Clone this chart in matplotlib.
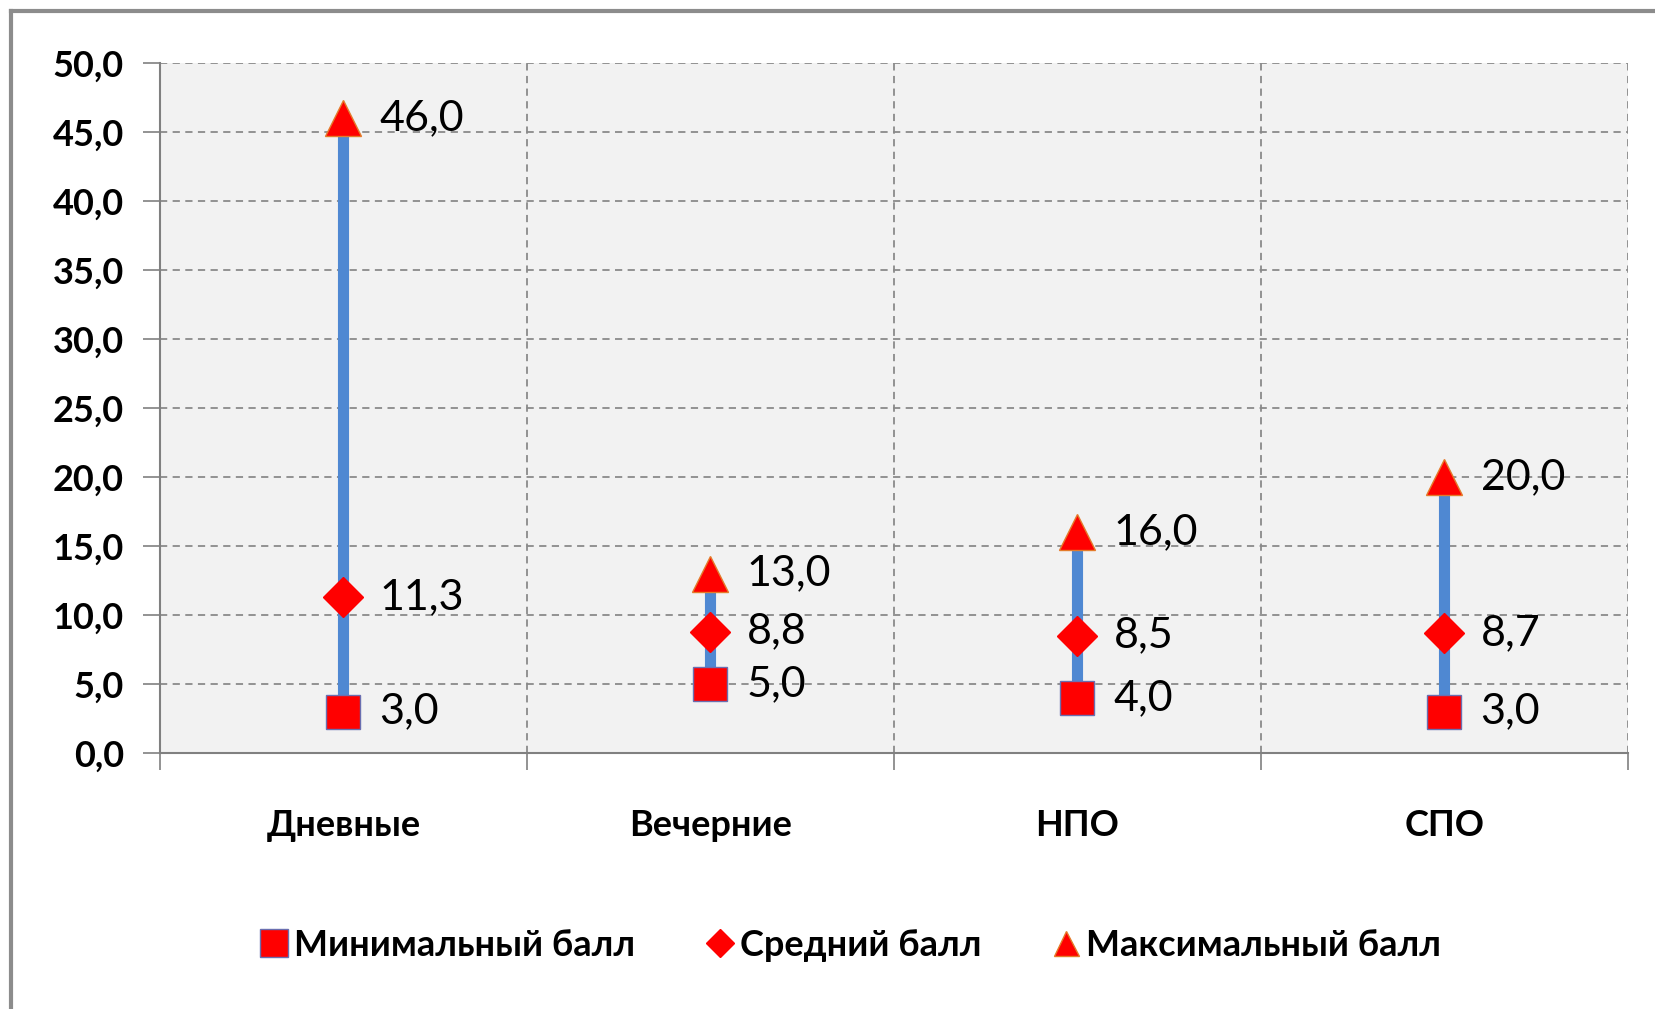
# Диаграмма: минимальный, средний и максимальный балл по типам учреждений

import matplotlib.pyplot as plt
from matplotlib.lines import Line2D

plt.rcParams['font.family'] = ['Lato', 'Roboto', 'DejaVu Sans']

categories = ['Дневные', 'Вечерние', 'НПО', 'СПО']
min_vals = [3.0, 5.0, 4.0, 3.0]
avg_vals = [11.3, 8.8, 8.5, 8.7]
max_vals = [46.0, 13.0, 16.0, 20.0]
yticks = [0, 5, 10, 15, 20, 25, 30, 35, 40, 45, 50]

fig = plt.figure(figsize=(16.56, 10.09), dpi=100)
ax = fig.add_axes([160 / 1656, 1 - 753 / 1009, (1628 - 160) / 1656, (753 - 63) / 1009])
ax.set_facecolor('#f2f2f2')

x = list(range(len(categories)))

# Линии от минимума до максимума
ax.vlines(x, min_vals, max_vals, color='#4f88d2', lw=8, zorder=2)

ax.plot(x, min_vals, 's', ms=24, mfc='#ff0000', mec='#6a6fb0', mew=1, ls='none', zorder=3)
ax.plot(x, avg_vals, 'D', ms=20, mfc='#ff0000', mec='#ff0000', mew=1, ls='none', zorder=3)
ax.plot(x, max_vals, '^', ms=26, mfc='#ff0000', mec='#e47b2a', mew=1, ls='none', zorder=3)

# Подписи значений
for vals in (min_vals, avg_vals, max_vals):
    for xi, v in zip(x, vals):
        ax.annotate(f'{v:.1f}'.replace('.', ','), (xi, v), xytext=(26, 0),
                    textcoords='offset points', ha='left', va='center',
                    fontsize=31, color='black', zorder=4)

ax.set_xlim(-0.5, len(categories) - 0.5)
ax.set_ylim(0, 50)
ax.set_yticks(yticks)
ax.set_yticklabels([f'{t:.1f}'.replace('.', ',') for t in yticks], fontsize=26, fontweight='bold')

ax.set_xticks(x)
ax.set_xticklabels(categories, fontsize=26, fontweight='bold')
ax.tick_params(axis='x', length=0, pad=40)
ax.set_xticks([i - 0.5 for i in range(len(categories) + 1)], minor=True)
ax.tick_params(axis='x', which='minor', length=12, color='#808080', width=1.2)
ax.tick_params(axis='y', length=12, color='#808080', width=1.2, pad=14)

# Сетка
ax.grid(axis='y', color='#8a8a8a', ls=(0, (4, 3)), lw=1.3, zorder=1)
ax.grid(axis='x', which='minor', color='#8a8a8a', ls=(0, (4, 3)), lw=1.3, zorder=1)
ax.set_axisbelow(True)

for s in ['top', 'right']:
    ax.spines[s].set_visible(False)
for s in ['left', 'bottom']:
    ax.spines[s].set_color('#808080')
    ax.spines[s].set_linewidth(1.5)

handles = [
    Line2D([], [], marker='s', ms=20, mfc='#ff0000', mec='#6a6fb0', ls='none'),
    Line2D([], [], marker='D', ms=14, mfc='#ff0000', mec='#ff0000', ls='none'),
    Line2D([], [], marker='^', ms=18, mfc='#ff0000', mec='#e47b2a', ls='none'),
]
fig.legend(handles, ['Минимальный балл', 'Средний балл', 'Максимальный балл'],
           loc='center', bbox_to_anchor=(851 / 1656, 1 - 945 / 1009), ncol=3,
           frameon=False, prop={'size': 26, 'weight': 'bold'},
           handlelength=0.7, handletextpad=0.2, columnspacing=2.0)

# Рамка (видны только левая и верхняя стороны)
fig.add_artist(Line2D([11 / 1656, 11 / 1656], [0, 1 - 11 / 1009], color='#8c8c8c', lw=3))
fig.add_artist(Line2D([11 / 1656, 1], [1 - 11 / 1009, 1 - 11 / 1009], color='#8c8c8c', lw=3))

fig.savefig('out.png', dpi=100)
